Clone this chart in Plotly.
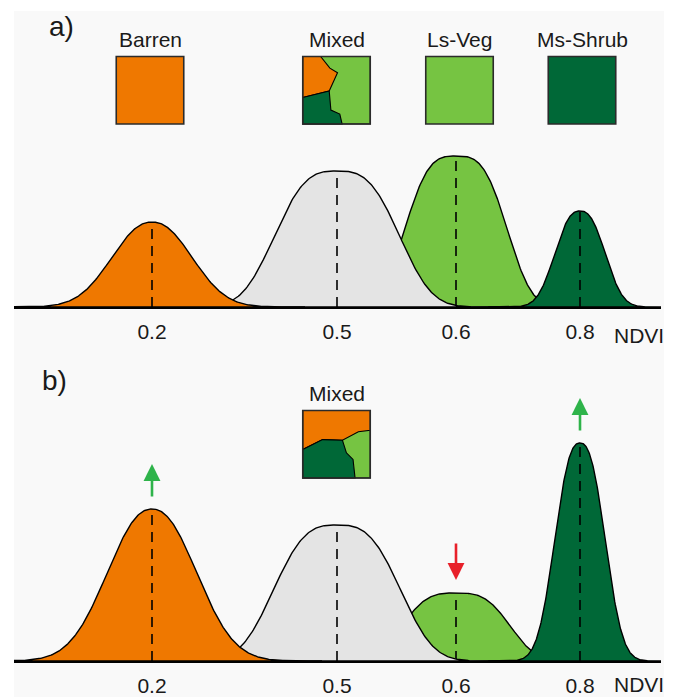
import numpy as np
import plotly.graph_objects as go

W, H = 678, 697

# ---- data -------------------------------------------------------------
classes = ["Barren", "Mixed", "Ls-Veg", "Ms-Shrub"]
ndvi_labels = ["0.2", "0.5", "0.6", "0.8"]
peak_pos = [1.52, 3.37, 4.56, 5.80]      # mode of each class along the schematic NDVI axis
height_a = [0.85, 1.36, 1.51, 0.96]      # relative frequency, scenario a)
height_b = [1.52, 1.36, 0.68, 2.18]      # relative frequency, scenario b)
spread_a = [0.45, 0.64, 0.52, 0.27]      # half width at half maximum
spread_b = [0.50, 0.65, 0.55, 0.27]
shape_p = [2.2, 3.0, 3.2, 2.5]           # generalized-gaussian exponent (flatness of the top)
change_b = ["up", "", "down", "up"]      # direction of change in b)

# ---- styles -----------------------------------------------------------
fills = ["#ef7800", "#e4e4e4", "#76c442", "#006837"]
draw_order = [2, 1, 0, 3]
bg = "#f9f9f9"
txt = "#1a1a1a"
font_family = "Liberation Sans, Arial, sans-serif"
fs = 21


def px(x, y):
    """pixel position -> paper coordinates"""
    return x / W, 1 - y / H


def curve(c, h, w, p):
    x = np.linspace(c - 3.4 * w, c + 3.4 * w, 400)
    y = h * np.exp(-np.log(2) * np.abs((x - c) / w) ** p)
    return x, y


fig = go.Figure()

panels = [("x", "y", height_a, spread_a), ("x2", "y2", height_b, spread_b)]
for xa, ya, heights, spreads in panels:
    for i in draw_order:
        x, y = curve(peak_pos[i], heights[i], spreads[i], shape_p[i])
        fig.add_trace(go.Scatter(
            x=np.concatenate([x, [x[-1], x[0]]]),
            y=np.concatenate([y, [0, 0]]),
            xaxis=xa, yaxis=ya, mode="lines", fill="toself",
            fillcolor=fills[i], line=dict(color="black", width=1.4),
            hoverinfo="skip", showlegend=False))
        fig.add_trace(go.Scatter(
            x=[peak_pos[i], peak_pos[i]], y=[0, heights[i]],
            xaxis=xa, yaxis=ya, mode="lines",
            line=dict(color="black", width=1.6, dash="10px,7px"),
            hoverinfo="skip", showlegend=False))

shapes = []
# panel background
x0, y0 = px(14, 11)
x1, y1 = px(664, H)
shapes.append(dict(type="rect", xref="paper", yref="paper", x0=x0, y0=y1, x1=x1, y1=y0,
                   fillcolor=bg, line=dict(width=0), layer="below"))


def square(cx, top, size, color=None, parts=None):
    left = cx - size / 2
    out = []
    if parts:
        for col, pts in parts:
            d = ""
            for k, (u, v) in enumerate(pts):
                X, Y = px(left + u * size, top + v * size)
                d += ("M" if k == 0 else "L") + f"{X:.5f},{Y:.5f} "
            d += "Z"
            out.append(dict(type="path", xref="paper", yref="paper", path=d,
                            fillcolor=col, line=dict(color="black", width=1.1)))
    X0, Y0 = px(left, top)
    X1, Y1 = px(left + size, top + size)
    out.append(dict(type="rect", xref="paper", yref="paper", x0=X0, y0=Y1, x1=X1, y1=Y0,
                    fillcolor=color if color else "rgba(0,0,0,0)",
                    line=dict(color="#2b2b2b", width=1.6)))
    return out


mixed_a = [
    (fills[2], [(0, 0), (1, 0), (1, 1), (0, 1)]),
    (fills[0], [(0, 0), (0.265, 0), (0.402, 0.172), (0.515, 0.240), (0.392, 0.510), (0, 0.608)]),
    (fills[3], [(0, 0.608), (0.392, 0.510), (0.417, 0.794), (0.549, 0.853), (0.583, 1), (0, 1)]),
]
mixed_b = [
    (fills[2], [(0, 0), (1, 0), (1, 1), (0, 1)]),
    (fills[0], [(0, 0), (1, 0), (1, 0.294), (0.824, 0.314), (0.588, 0.441), (0.294, 0.431), (0, 0.578)]),
    (fills[3], [(0, 0.578), (0.294, 0.431), (0.588, 0.441), (0.647, 0.627), (0.745, 0.725),
                (0.775, 1), (0, 1)]),
]

sq_centers = [150, 336.5, 459.5, 582]
for k, name in enumerate(classes):
    if name == "Mixed":
        shapes += square(sq_centers[k], 56.5, 67.5, parts=mixed_a)
    else:
        shapes += square(sq_centers[k], 56.5, 67.5, color=fills[k])
shapes += square(336.5, 410.5, 67.5, parts=mixed_b)

annotations = []


def label(text, x, y, size=fs):
    X, Y = px(x, y)
    annotations.append(dict(text=text, x=X, y=Y, xref="paper", yref="paper",
                            showarrow=False, xanchor="center", yanchor="middle",
                            font=dict(size=size, color=txt, family=font_family)))


for k, name in enumerate(classes):
    label(name, sq_centers[k], 40)
label("Mixed", 336.5, 393)
label("a)", 61, 27, 28)
label("b)", 54, 380, 28)
label("NDVI", 639, 335)
label("NDVI", 639, 684)

# change arrows in b)
arrow_cols = {"up": "#2eb34a", "down": "#e8202a"}
for i, d in enumerate(change_b):
    if not d:
        continue
    if d == "up":
        tail, tip = height_b[i] + 0.11, height_b[i] + 0.45
    else:
        tail, tip = height_b[i] + 0.51, height_b[i] + 0.13
    annotations.append(dict(x=peak_pos[i], y=tip, ax=peak_pos[i], ay=tail,
                            xref="x2", yref="y2", axref="x2", ayref="y2",
                            text="", showarrow=True, arrowhead=2, arrowsize=1.3,
                            arrowwidth=2.6, arrowcolor=arrow_cols[d], standoff=0))

xdom = [14 / W, 661 / W]
xrange_ = [0.14, 6.61]
common_x = dict(domain=xdom, range=xrange_, showline=True, linecolor="black", linewidth=1.8,
                tickmode="array", tickvals=peak_pos, ticktext=ndvi_labels, ticks="",
                ticklabelstandoff=5, tickfont=dict(size=fs, color=txt, family=font_family),
                showgrid=False, zeroline=False, fixedrange=True)
common_y = dict(range=[0, 2.9], visible=False, showgrid=False, zeroline=False, fixedrange=True)

fig.update_layout(
    width=W, height=H, margin=dict(l=0, r=0, t=0, b=0),
    paper_bgcolor="white", plot_bgcolor="rgba(0,0,0,0)",
    xaxis=dict(anchor="y", **common_x),
    yaxis=dict(anchor="x", domain=[(H - 307) / H, (H - 17) / H], **common_y),
    xaxis2=dict(anchor="y2", **common_x),
    yaxis2=dict(anchor="x2", domain=[(H - 661) / H, (H - 371) / H], **common_y),
    shapes=shapes, annotations=annotations, showlegend=False,
)

fig.write_html("out.html")
